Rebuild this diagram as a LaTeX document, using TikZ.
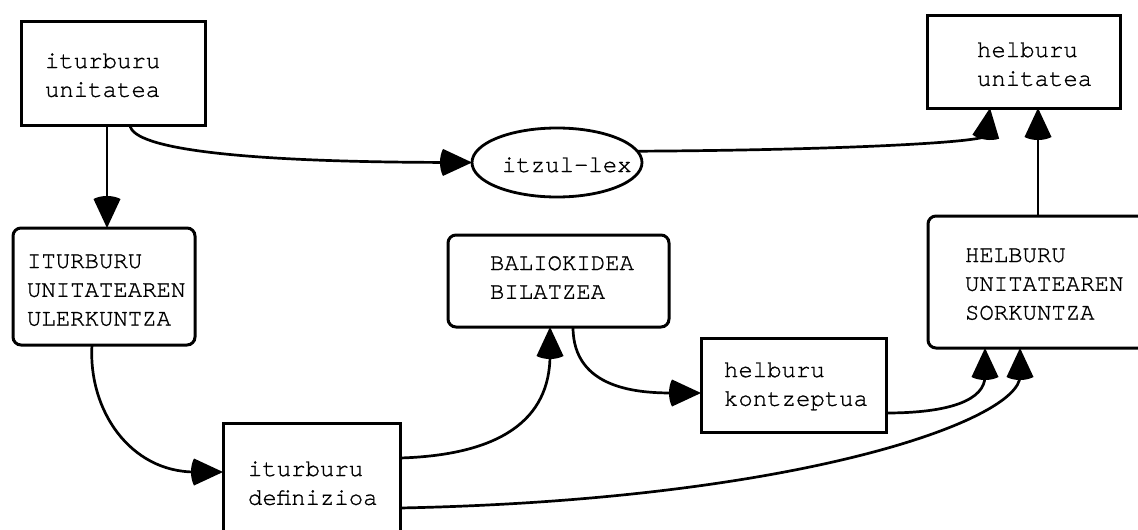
\documentclass[tikz,border=0pt]{standalone}
\usepackage{fontspec}
\newfontfamily\boxfont{TeX Gyre Cursor}[FakeBold=1]
\usetikzlibrary{arrows.meta,shapes.geometric}
% filled triangular head with a slightly bulging back
\pgfdeclarearrow{
  name=BulbTri,
  setup code={%
    \pgfarrowssettipend{0pt}%
    \pgfarrowssetlineend{-28pt}%
    \pgfarrowssetbackend{-33pt}%
  },
  drawing code={%
    \pgfpathmoveto{\pgfqpoint{0pt}{0pt}}%
    \pgfpathlineto{\pgfqpoint{-29pt}{13.5pt}}%
    \pgfpathcurveto{\pgfqpoint{-33pt}{6pt}}{\pgfqpoint{-33pt}{-6pt}}{\pgfqpoint{-29pt}{-13.5pt}}%
    \pgfpathclose
    \pgfusepathqfill
  }
}
\begin{document}
\begin{tikzpicture}[x=1pt,y=-1pt,
  plainbox/.style={draw, line width=3pt, rectangle, inner sep=0pt, outer sep=0pt},
  roundbox/.style={plainbox, rounded corners=8pt},
  oval/.style={draw, line width=2.8pt, ellipse, inner sep=0pt, outer sep=0pt},
  lbl/.style={anchor=base west, inner sep=0pt, outer sep=0pt, text width=220pt,
    align=left, font=\boxfont\fontsize{24}{28.8}\selectfont},
  conn/.style={line width=2.7pt, -BulbTri}]

\fill[white] (0,0) rectangle (1138,530);
\useasboundingbox (0,0) rectangle (1138,530);

% boxes
\node[plainbox, minimum width=184pt, minimum height=104pt] (iu)  at (113,73) {};
\node[plainbox, minimum width=193pt, minimum height=93pt]  (hu)  at (1023.5,61.5) {};
\node[oval,     minimum width=170pt, minimum height=69pt]  (lex) at (557,162.5) {};
\node[roundbox, minimum width=182pt, minimum height=117pt] (iul) at (104,286.5) {};
\node[roundbox, minimum width=221pt, minimum height=92pt]  (bb)  at (558.5,281) {};
\node[roundbox, minimum width=222pt, minimum height=132pt] (hus) at (1039,282) {};
\node[plainbox, minimum width=185pt, minimum height=94pt]  (hk)  at (793.5,385) {};
\node[plainbox, minimum width=177pt, minimum height=122pt] (id)  at (311.5,484) {};

% labels
\node[lbl] (tiu)  at (45,68)   {iturburu\\unitatea};
\node[lbl] (thu)  at (977,57)  {helburu\\unitatea};
\node[lbl] (tlex) at (502,172) {itzul-lex};
\node[lbl] (tiul) at (27,268)  {ITURBURU\\UNITATEAREN\\ULERKUNTZA};
\node[lbl] (tbb)  at (490,270) {BALIOKIDEA\\BILATZEA};
\node[lbl] (thus) at (965,262) {HELBURU\\UNITATEAREN\\SORKUNTZA};
\node[lbl] (thk)  at (724,377) {helburu\\kontzeptua};
\node[lbl] (tid)  at (248,476) {iturburu\\definizioa};

% connectors
\draw[conn] ([xshift=-6pt]iu.south) -- ([xshift=-6pt]iu.south |- iul.north);
\draw[conn] ([xshift=17pt]iu.south) .. controls (132,150) and (250,162) .. (lex.west);
\draw[conn] (lex.8) .. controls (850,150) and (985,142) .. ([xshift=-33.5pt]hu.south);
\draw[conn] ([xshift=-1pt]hus.north) -- ([xshift=-1pt]hus.north |- hu.south);
\draw[conn] ([xshift=-12pt]iul.south) .. controls (88,410) and (130,472) .. ([yshift=12pt]id.west);
\draw[conn] ([yshift=26pt]id.east) .. controls (500,455) and (550,420) .. ([xshift=-8.5pt]bb.south);
\draw[conn] ([xshift=14.5pt]bb.south) .. controls (573,390) and (640,393) .. ([yshift=-8pt]hk.west);
\draw[conn] ([yshift=-28pt]hk.east) .. controls (950,413) and (985,400) .. ([xshift=-54pt]hus.south);
\draw[conn] ([yshift=-24pt]id.east) .. controls (800,500) and (1020,420) .. ([xshift=-19pt]hus.south);
\end{tikzpicture}
\end{document}
